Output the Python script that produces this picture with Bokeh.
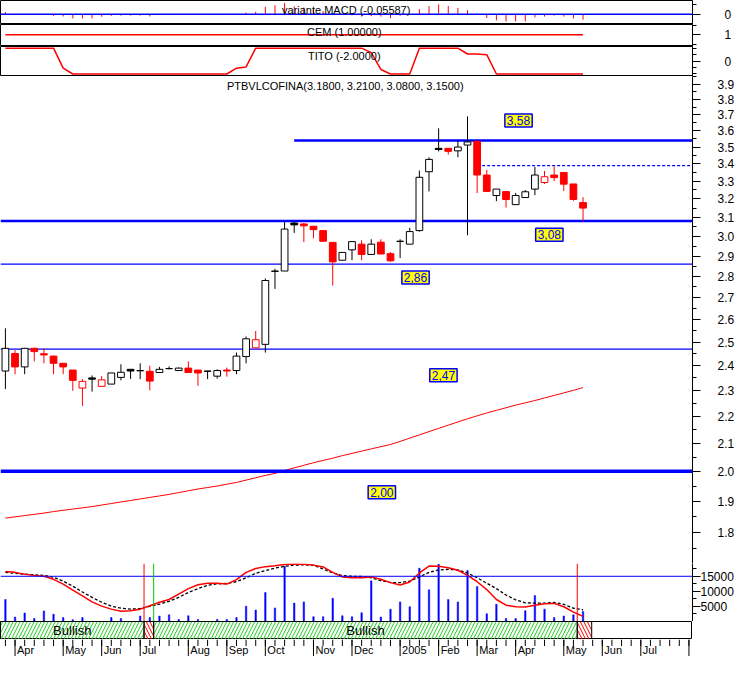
import pandas as pd
from bokeh.plotting import figure
from bokeh.layouts import column
from bokeh.models import Range1d, FixedTicker, PrintfTickFormatter, Label, ColumnDataSource, Span
from bokeh.core.properties import value
from bokeh.embed import file_html
from bokeh.resources import INLINE

FONT = "Liberation Sans"

# ---------------- data ----------------
symbol = "PTBVLCOFINA"
first_week = "2004-03-22"

open_ = [2.378, 2.451, 2.395, 2.473, 2.450, 2.440, 2.410, 2.382, 2.309, 2.350,
         2.316, 2.325, 2.352, 2.385, 2.379, 2.377, 2.372, 2.388, 2.380, 2.390,
         2.382, 2.378, 2.357, 2.382, 2.380, 2.438, 2.475, 2.490, 2.824, 2.826,
         3.070, 3.065, 3.053, 3.030, 2.969, 2.879, 2.931, 2.960, 2.908, 2.970,
         2.912, 2.974, 2.960, 3.030, 3.354, 3.492, 3.492, 3.477, 3.512, 3.535,
         3.335, 3.219, 3.241, 3.169, 3.208, 3.255, 3.292, 3.335, 3.350, 3.284, 3.180]
high = [2.560, 2.465, 2.475, 2.476, 2.473, 2.442, 2.410, 2.382, 2.345, 2.360,
        2.357, 2.370, 2.406, 2.385, 2.410, 2.400, 2.395, 2.397, 2.393, 2.418,
        2.382, 2.378, 2.385, 2.392, 2.455, 2.524, 2.548, 2.790, 2.837, 3.077,
        3.077, 3.070, 3.053, 3.030, 2.969, 2.918, 2.973, 2.980, 2.985, 2.985,
        2.920, 2.985, 3.045, 3.361, 3.439, 3.615, 3.492, 3.540, 3.690, 3.535,
        3.365, 3.255, 3.241, 3.233, 3.250, 3.382, 3.358, 3.385, 3.350, 3.284, 3.210]
low = [2.305, 2.365, 2.365, 2.418, 2.410, 2.365, 2.365, 2.298, 2.239, 2.295,
       2.316, 2.325, 2.340, 2.346, 2.345, 2.300, 2.372, 2.385, 2.380, 2.372,
       2.318, 2.345, 2.347, 2.355, 2.365, 2.410, 2.474, 2.455, 2.740, 2.826,
       3.018, 2.970, 2.990, 2.975, 2.756, 2.879, 2.879, 2.879, 2.905, 2.910,
       2.872, 2.890, 2.960, 3.025, 3.242, 3.474, 3.455, 3.439, 3.006, 3.233,
       3.242, 3.188, 3.153, 3.169, 3.208, 3.221, 3.284, 3.300, 3.245, 3.190, 3.080]
close = [2.473, 2.395, 2.473, 2.459, 2.445, 2.410, 2.395, 2.340, 2.336, 2.345,
         2.342, 2.370, 2.373, 2.378, 2.380, 2.337, 2.385, 2.388, 2.390, 2.372,
         2.370, 2.377, 2.380, 2.378, 2.440, 2.514, 2.510, 2.780, 2.826, 3.038,
         3.060, 3.055, 3.035, 2.975, 2.871, 2.918, 2.973, 2.908, 2.960, 2.910,
         2.876, 2.975, 3.025, 3.322, 3.426, 3.485, 3.474, 3.500, 3.531, 3.335,
         3.242, 3.255, 3.197, 3.219, 3.240, 3.335, 3.325, 3.320, 3.283, 3.197, 3.150]
ma40 = [1.845, 1.849, 1.853, 1.857, 1.861, 1.866, 1.870, 1.874, 1.878, 1.882,
        1.887, 1.892, 1.897, 1.902, 1.907, 1.912, 1.917, 1.922, 1.928, 1.934,
        1.940, 1.945, 1.950, 1.956, 1.962, 1.970, 1.978, 1.986, 1.993, 2.003,
        2.012, 2.021, 2.030, 2.038, 2.046, 2.055, 2.063, 2.071, 2.079, 2.087,
        2.095, 2.106, 2.118, 2.130, 2.142, 2.154, 2.166, 2.178, 2.190, 2.201,
        2.212, 2.222, 2.232, 2.242, 2.251, 2.260, 2.270, 2.280, 2.290, 2.300, 2.311]
volume = [7300, 1500, 2800, 1000, 3500, 2400, 1300, 600, 1300, 0,
          0, 1300, 1000, 0, 1800, 1300, 1800, 2200, 700, 1900,
          700, 0, 700, 700, 1300, 5100, 3800, 9600, 4500, 18300,
          6100, 6500, 1600, 1600, 7700, 1900, 1600, 2900, 13500, 1500,
          4100, 6500, 4900, 17700, 10500, 19000, 7300, 6500, 16900, 11600,
          2600, 5700, 1000, 1000, 3600, 8600, 4100, 1300, 1800, 2200, 3300]
vol_fast = [16600, 16300, 15700, 15300, 15000, 14000, 12400, 10400, 8500, 6500,
            5100, 4100, 3400, 3600, 4100, 5200, 6400, 7300, 9100, 10900,
            12200, 12700, 12700, 12400, 13900, 16300, 17600, 18200, 18500, 18900,
            19100, 19000, 18700, 18100, 16300, 14800, 14500, 14500, 14800, 14000,
            12900, 12100, 13100, 16100, 18400, 18300, 17800, 17000, 15300, 13200,
            10600, 7300, 5400, 4900, 4800, 5400, 5900, 6000, 4900, 3100, 1700]
vol_slow = [16300, 16000, 15700, 15500, 15300, 14700, 13400, 11700, 9800, 8000,
            6400, 5100, 4400, 4100, 4300, 5000, 5800, 6700, 8000, 9600,
            10900, 12000, 12500, 12600, 13200, 14500, 16000, 16900, 17700, 18300,
            18700, 18800, 18700, 17400, 16100, 15200, 15000, 15000, 14500, 13600,
            12900, 12900, 13400, 14800, 16300, 17100, 17300, 17100, 16100, 14500,
            12700, 10900, 8800, 7200, 6200, 6100, 6100, 6300, 5700, 4400, 3900]
macd = [0.022, 0.002, 0.002, 0.002, -0.003, -0.017, -0.023, -0.043, -0.043, -0.043,
        -0.026, -0.017, -0.014, -0.014, -0.014, -0.023, -0.005, -0.003, 0.003, -0.003,
        0.003, 0.002, -0.002, 0.003, 0.004, 0.016, 0.026, 0.075, 0.091, 0.114,
        0.081, 0.069, 0.049, 0.030, 0.005, -0.005, -0.012, -0.024, -0.020, -0.024,
        -0.039, -0.017, 0.003, 0.052, 0.084, 0.101, 0.084, 0.065, 0.042, 0.002,
        -0.039, -0.063, -0.073, -0.073, -0.073, -0.033, -0.024, -0.014, -0.024, -0.043, -0.05587]
cem = [1.0, 1.0, 1.0, 1.0, 1.0, 1.0, 1.0, 1.0, 1.0, 1.0,
       1.0, 1.0, 1.0, 1.0, 1.0, 1.0, 1.0, 1.0, 1.0, 1.0,
       1.0, 1.0, 1.0, 1.0, 1.0, 1.0, 1.0, 1.0, 1.0, 1.0,
       1.0, 1.0, 1.0, 1.0, 1.0, 1.0, 1.0, 1.0, 1.0, 1.0,
       1.0, 1.0, 1.0, 1.0, 1.0, 1.0, 1.0, 1.0, 1.0, 1.0,
       1.0, 1.0, 1.0, 1.0, 1.0, 1.0, 1.0, 1.0, 1.0, 1.0, 1.0]
tito = [2, 2, 2, 2, 2, 2, -1.1, -2, -2, -2,
        -2, -2, -2, -2, -2, -2, -2, -2, -2, -2,
        -2, -2, -2, -2, -1.1, -0.9, 2, 2, 2, 2,
        2, 2, 2, 2, 2, 2, 2, 2, 1.3, -1.3,
        -2, -2, -2, 2, 2, 2, 2, 2, 1.1, 1.1,
        1.0, -2, -2, -2, -2, -2, -2, -2, -2, -2, -2]

# support / resistance levels
level_values = [3.54, 3.39, 3.08, 2.86, 2.47, 2.00]
level_from_week = [30, 49, None, None, None, None]
level_tags = ["3,58", "3,08", "2,86", "2,47", "2,00"]
tag_week = [53.3, 56.5, 42.6, 45.5, 39.1]
tag_price = [3.664, 3.009, 2.794, 2.361, 1.929]

# trend regime band (week boundaries)
regime_start = [-0.51, 14.4, 15.4, 59.4]
regime_end = [14.4, 15.4, 59.4, 60.9]
regime = ["Bullish", "Bearish", "Bullish", "Bearish"]

# ---------------- derived ----------------
n = len(close)
weeks = list(range(n))
dates = pd.date_range(first_week, periods=72, freq="7D")
mstarts = pd.date_range(dates[0], dates[-1] + pd.Timedelta(days=13), freq="BMS")
month_week = [(d - dates[0]).days // 7 for d in mstarts]
month_label = [str(d.year) if d.month == 1 else d.strftime("%b") for d in mstarts]

prev_close = [close[0]] + close[:-1]
ccol = ["red" if c < pc else "black" for c, pc in zip(close, prev_close)]
cfill = [col if c < o else "white" for col, c, o in zip(ccol, close, open_)]
ctop = [max(o, c) for o, c in zip(open_, close)]
cbot = [min(o, c) for o, c in zip(open_, close)]

XR = Range1d(-0.51, 71.37)
FW = 692


def panel(h, yr, y_type="linear", axis=True, ticks=None, minor=None, standoff=0):
    p = figure(frame_width=FW, frame_height=h, x_range=XR, y_range=yr, y_axis_type=y_type,
               y_axis_location="right" if axis else None, x_axis_location=None,
               toolbar_location=None, output_backend="svg", min_border=0,
               background_fill_color="white", border_fill_color="white",
               outline_line_color=None)
    p.grid.visible = False
    if axis:
        ax = p.yaxis[0]
        ax.ticker = FixedTicker(ticks=ticks, minor_ticks=minor or [])
        ax.axis_line_color = "black"
        ax.major_tick_line_color = "black"
        ax.minor_tick_line_color = "black"
        ax.major_tick_in = 0
        ax.major_tick_out = 8
        ax.minor_tick_in = 0
        ax.minor_tick_out = 4
        ax.major_label_standoff = standoff
        ax.major_label_text_font = FONT
        ax.major_label_text_font_size = "12px"
        ax.major_label_text_color = "black"
    return p


def title(p, x, y, text):
    p.add_layout(Label(x=x, y=y, text=text, text_font=FONT, text_font_size="11px",
                       text_color="black", text_align="center", text_baseline="middle"))


# MACD panel
p1 = panel(24, Range1d(-0.105, 0.14), ticks=[0], minor=[-0.1, 0.1], standoff=24)
p1.outline_line_color = "black"
p1.add_layout(Span(location=0, dimension="width", line_color="blue", line_width=1.5))
p1.segment(x0=weeks, y0=0, x1=weeks, y1=macd, line_color="red", line_width=1)
title(p1, 35.4, 0.042, f"variante MACD ({macd[-1]:.5f})")

# CEM panel
p2 = panel(22, Range1d(0.385, 1.535), ticks=[1], minor=[0.5, 1.5], standoff=24)
p2.outline_line_color = "black"
p2.line(weeks, cem, line_color="red", line_width=1.5)
title(p2, 35.2, 1.125, f"CEM ({cem[-1]:.5f})")

# TITO panel
p3 = panel(30, Range1d(-2.39, 2.26), ticks=[0], minor=[-2, -1, 1, 2], standoff=24)
p3.outline_line_color = "black"
p3.line(weeks, tito, line_color="red", line_width=1.5)
title(p3, 35.2, 0.79, f"TITO ({tito[-1]:.4f})")

# price panel
ptick = [round(1.8 + 0.1 * k, 2) for k in range(22)]
pminor = [round(1.75 + 0.1 * k, 2) for k in range(23)]
p4 = panel(487, Range1d(1.706, 3.953), y_type="log", ticks=ptick, minor=pminor, standoff=17)
p4.yaxis[0].formatter = PrintfTickFormatter(format="%.1f")

p4.line(weeks, ma40, line_color="red", line_width=1)

lw = [2.5, 1.2, 2.5, 1.2, 1.2, 3.5]
ld = ["solid", "3 2", "solid", "solid", "solid", "solid"]
for lv, lf, w, d in zip(level_values, level_from_week, lw, ld):
    x0 = XR.start if lf is None else lf
    p4.segment(x0=[x0], y0=[lv], x1=[XR.end], y1=[lv], line_color="blue", line_width=w, line_dash=d)

csrc = ColumnDataSource(dict(x=weeks, hi=high, lo=low, top=ctop, bot=cbot, col=ccol, fill=cfill))
p4.segment(x0="x", y0="lo", x1="x", y1="hi", line_color="col", line_width=1, source=csrc)
p4.vbar(x="x", top="top", bottom="bot", width=0.7, fill_color="fill", line_color="col",
        line_width=1, source=csrc)

for tx, ty, tt in zip(tag_week, tag_price, level_tags):
    p4.add_layout(Label(x=tx, y=ty, text=tt, text_font=FONT, text_font_size="12px",
                        text_color="blue", text_align="center", text_baseline="middle",
                        background_fill_color="yellow", background_fill_alpha=1.0,
                        border_line_color="blue", border_line_alpha=1.0,
                        border_line_width=1.5, padding=2))

title(p4, 35.3, 3.887, f"{symbol}({open_[-1]:.4f}, {high[-1]:.4f}, {low[-1]:.4f}, {close[-1]:.4f})")

# volume panel
p5 = panel(58, Range1d(0, 19240), ticks=[5000, 10000, 15000], minor=[2500, 7500, 12500, 17500],
           standoff=0)
p5.vbar(x=weeks, top=volume, bottom=0, width=0.15, fill_color="blue", line_color="blue", line_width=0.5)
p5.add_layout(Span(location=15000, dimension="width", line_color="blue", line_width=1))
p5.line(weeks, vol_slow, line_color="black", line_width=1.3, line_dash="3 2")
p5.line(weeks, vol_fast, line_color="red", line_width=1.5)
for k in range(1, len(regime)):
    mcol = "red" if regime[k] == "Bearish" else "#00cc00"
    p5.add_layout(Span(location=regime_start[k], dimension="height", line_color=mcol, line_width=1))

# regime band
p6 = panel(18, Range1d(0, 1), axis=False)
p6.outline_line_color = "black"
bsrc = ColumnDataSource(dict(
    left=regime_start, right=regime_end,
    hatch=["/" if r == "Bullish" else "\\" for r in regime],
    hcol=["#22cc22" if r == "Bullish" else "red" for r in regime]))
p6.quad(left="left", right="right", top=1, bottom=0, fill_alpha=0, line_color="black",
        line_width=1, hatch_pattern="hatch", hatch_color="hcol", hatch_scale=7,
        hatch_weight=1, source=bsrc)
bx = [(s + e) / 2 for s, e, r in zip(regime_start, regime_end, regime) if r == "Bullish"]
bt = [r for r in regime if r == "Bullish"]
p6.text(x=bx, y=[0.5] * len(bx), text=bt, text_font=value(FONT), text_font_size="13px",
        text_color="black", text_align="center", text_baseline="middle")

# date axis
p7 = panel(17, Range1d(0, 1), axis=False)
allw = list(range(72))
p7.segment(x0=allw, y0=1, x1=allw, y1=0.62, line_color="black", line_width=1)
p7.segment(x0=month_week, y0=1, x1=month_week, y1=0, line_color="black", line_width=1)
lab_w = [w for w in month_week if w <= 67]
lab_t = [t for w, t in zip(month_week, month_label) if w <= 67]
p7.text(x=lab_w, y=[0.4] * len(lab_w), text=lab_t, x_offset=2, text_font=value(FONT),
        text_font_size="11px", text_color="black", text_align="left", text_baseline="middle")

layout = column(p1, p2, p3, p4, p5, p6, p7, spacing=0)
open("out.html", "w").write(file_html(layout, INLINE))
